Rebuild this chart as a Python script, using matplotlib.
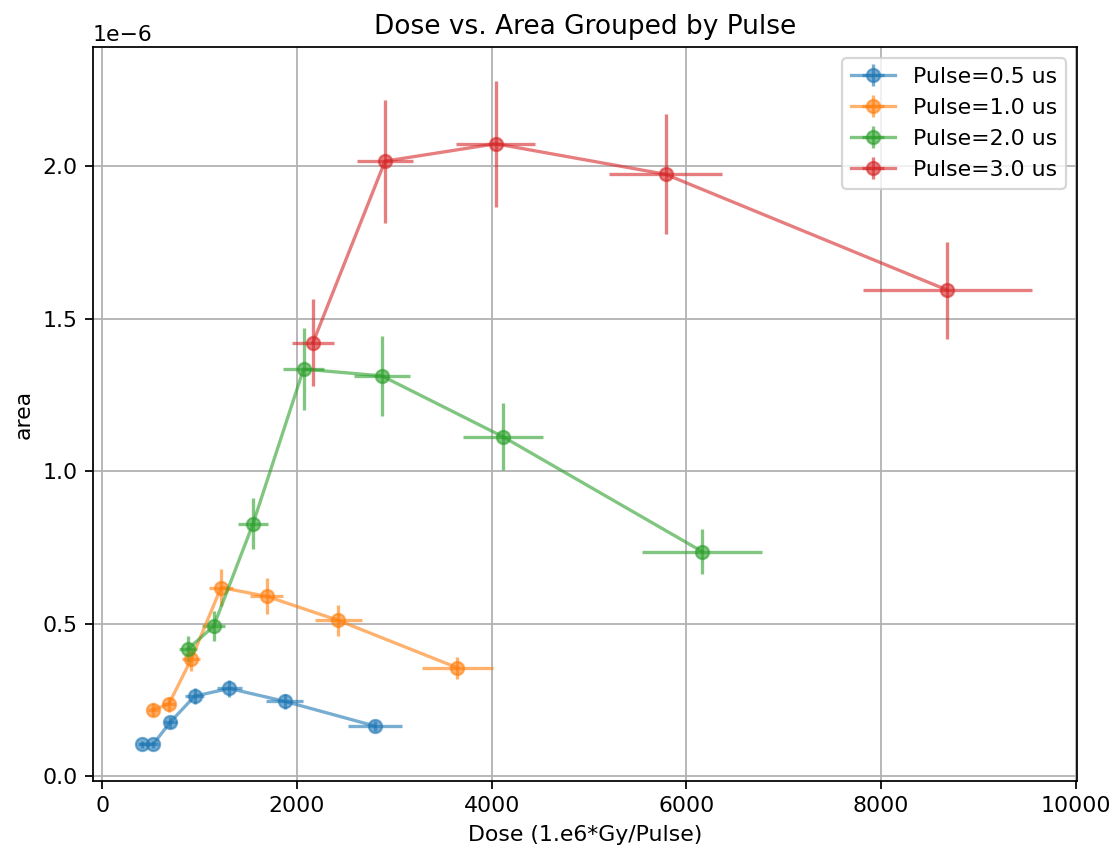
import numpy as np
import matplotlib.pyplot as plt

# dose (1.e6*Gy/Pulse), area, and their errors, per pulse length
dose_05 = [406, 523, 700, 950, 1306, 1873, 2800]
area_05 = [0.105, 0.105, 0.178, 0.263, 0.288, 0.246, 0.165]
dose_err_05 = [41, 52, 70, 95, 131, 187, 280]
area_err_05 = [0.011, 0.011, 0.018, 0.026, 0.029, 0.025, 0.017]

dose_10 = [523, 683, 916, 1221, 1692, 2427, 3647]
area_10 = [0.219, 0.236, 0.385, 0.619, 0.590, 0.511, 0.356]
dose_err_10 = [52, 68, 92, 122, 169, 243, 365]
area_err_10 = [0.022, 0.024, 0.039, 0.062, 0.059, 0.051, 0.036]

dose_20 = [882, 1145, 1549, 2068, 2872, 4113, 6162]
area_20 = [0.418, 0.492, 0.828, 1.335, 1.313, 1.114, 0.737]
dose_err_20 = [88, 115, 155, 207, 287, 411, 616]
area_err_20 = [0.042, 0.049, 0.083, 0.134, 0.131, 0.111, 0.074]

dose_30 = [2165, 2905, 4042, 5786, 8682]
area_30 = [1.422, 2.017, 2.074, 1.974, 1.594]
dose_err_30 = [217, 290, 404, 579, 868]
area_err_30 = [0.142, 0.202, 0.207, 0.197, 0.159]

pulses = [0.5, 1.0, 2.0, 3.0]
groups = [
    (dose_05, area_05, dose_err_05, area_err_05),
    (dose_10, area_10, dose_err_10, area_err_10),
    (dose_20, area_20, dose_err_20, area_err_20),
    (dose_30, area_30, dose_err_30, area_err_30),
]

DPI = 158
fig = plt.figure(figsize=(1110 / DPI, 849 / DPI), dpi=DPI)
ax = fig.add_axes([0.0838, 0.0801, 0.8862, 0.8642])

for p, (x, y, xe, ye) in zip(pulses, groups):
    ax.errorbar(x, np.array(y) * 1e-6, xerr=xe, yerr=np.array(ye) * 1e-6,
                fmt='o-', alpha=0.6, label=f"Pulse={p} us")

ax.set_xlabel("Dose (1.e6*Gy/Pulse)")
ax.set_ylabel("area")
ax.set_title("Dose vs. Area Grouped by Pulse")
ax.legend(loc="upper right")
ax.grid(True)

fig.savefig("out.png", dpi=DPI)
